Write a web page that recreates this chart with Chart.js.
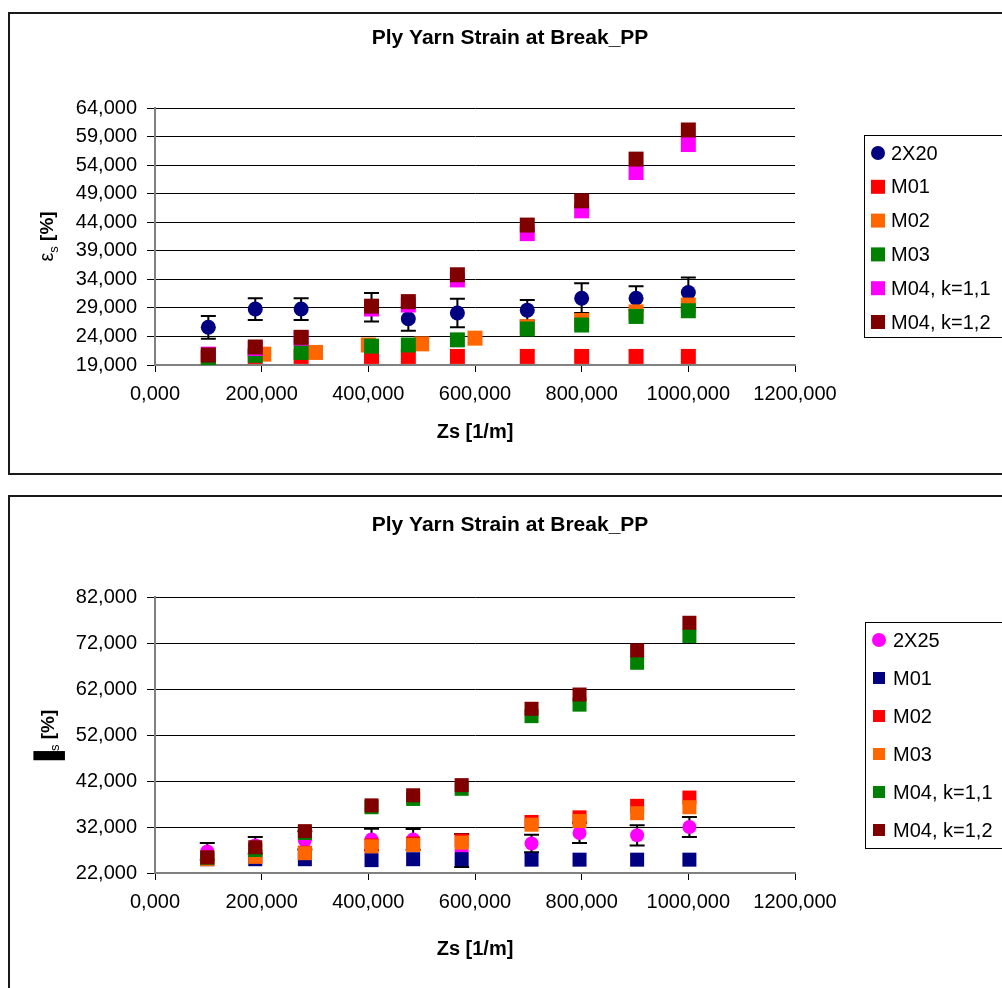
<!DOCTYPE html>
<html>
<head>
<meta charset="utf-8">
<script src="https://cdn.jsdelivr.net/npm/chart.js@4.4.1/dist/chart.umd.min.js"></script>
<style>
  html, body { margin: 0; padding: 0; background: #fff; overflow: hidden; width: 1002px; height: 988px; }
  .box { position: absolute; left: 8px; width: 1010px; border: 2px solid #1a1a1a; background: #fff; }
  #box1 { top: 12px; height: 459px; }
  #box2 { top: 495px; height: 500px; }
  canvas { display: block; }
</style>
</head>
<body>
<div class="box" id="box1"><canvas id="c1" width="1000" height="459"></canvas></div>
<div class="box" id="box2"><canvas id="c2" width="1000" height="493"></canvas></div>
<script>
// ---- shared text ----
const TITLE = 'Ply Yarn Strain at Break_PP';
const X_TITLE = 'Zs [1/m]';

// ---- upper chart: 2X20 plied yarn and its models ----
const zs2x20   = [100, 188, 274, 406, 475, 567, 698, 800, 902, 1000];
const eps2x20  = [25.6, 28.8, 28.8, 29.1, 27.1, 28.1, 28.6, 30.7, 30.7, 31.7];
const err2x20  = [2.0, 1.9, 1.9, 2.5, 2.1, 2.5, 1.8, 2.6, 2.1, 2.6];
const epsM01   = [20.5, 20.5, 20.5, 20.5, 20.5, 20.5, 20.5, 20.5, 20.5, 20.5];
const zsM02    = [100, 204, 301, 400, 500, 600, 698, 800, 902, 1000];
const epsM02   = [20.2, 20.9, 21.2, 22.5, 22.7, 23.7, 25.7, 26.8, 28.3, 29.5];
const epsM03   = [20.3, 20.7, 21.2, 22.3, 22.5, 23.4, 25.3, 26.0, 27.5, 28.5];
const epsM04a  = [20.9, 21.9, 23.7, 28.8, 29.5, 33.9, 42.0, 46.0, 52.7, 57.6];
const epsM04b  = [20.75, 22.15, 23.85, 29.3, 30.1, 34.8, 43.5, 47.75, 55.05, 60.15];
const labels1  = ['2X20', 'M01', 'M02', 'M03', 'M04, k=1,1', 'M04, k=1,2'];
const yTicks1  = { min: 19, max: 64, step: 5 };

// ---- lower chart: 2X25 plied yarn and its models ----
const zs2x25   = [98, 188, 281, 406, 484, 575, 706, 796, 904, 1002];
const eps2x25  = [26.7, 28.0, 29.1, 29.3, 29.3, 26.9, 28.4, 30.7, 30.2, 32.0];
const err2x25  = [1.8, 1.8, 2.0, 2.3, 2.25, 3.6, 1.9, 2.2, 2.2, 2.2];
const epsBM01  = [25.0, 25.0, 25.0, 24.8, 25.0, 25.0, 24.9, 24.9, 24.9, 24.9];
const epsBM02  = [25.3, 25.7, 26.4, 28.0, 28.4, 29.1, 33.1, 34.1, 36.6, 38.4];
const epsBM03  = [25.0, 25.5, 26.3, 27.8, 28.1, 28.6, 32.5, 33.3, 35.0, 36.3];
const epsBM04a = [25.3, 27.0, 30.7, 36.3, 38.1, 40.3, 56.1, 58.6, 67.7, 73.5];
const epsBM04b = [25.4, 27.6, 31.1, 36.7, 38.9, 41.1, 57.7, 60.8, 70.4, 76.4];
const labels2  = ['2X25', 'M01', 'M02', 'M03', 'M04, k=1,1', 'M04, k=1,2'];
const yTicks2  = { min: 22, max: 82, step: 10 };

const xTicks = { min: 0, max: 1200, step: 200 };

const FONT = '"Liberation Sans", Arial, sans-serif';
const fmt = v => Number(v).toFixed(3).replace('.', ',');
const pts = (xs, ys) => xs.map((x, i) => ({ x, y: ys[i] }));

// chart heading, centred over the whole frame
const heading = {
  id: 'heading',
  afterDraw(chart, args, o) {
    const ctx = chart.ctx;
    ctx.save();
    ctx.font = `bold ${o.size}px ${FONT}`;
    ctx.fillStyle = '#000';
    ctx.textAlign = 'center';
    ctx.textBaseline = 'middle';
    ctx.fillText(o.text, o.x, o.y);
    ctx.restore();
  }
};

// vertical error bars with caps, drawn just before the owning dataset
const errorBars = {
  id: 'errorBars',
  beforeDatasetDraw(chart, args, o) {
    const ds = chart.data.datasets[args.index];
    if (!ds.errors) return;
    const { ctx, scales: { y } } = chart;
    ctx.save();
    ctx.strokeStyle = '#000';
    ctx.lineWidth = o.lineWidth;
    args.meta.data.forEach((el, i) => {
      const v = ds.data[i].y, e = ds.errors[i];
      const y1 = y.getPixelForValue(v + e), y2 = y.getPixelForValue(v - e);
      ctx.beginPath();
      ctx.moveTo(el.x, y1); ctx.lineTo(el.x, y2);
      ctx.moveTo(el.x - o.cap / 2, y1); ctx.lineTo(el.x + o.cap / 2, y1);
      ctx.moveTo(el.x - o.cap / 2, y2); ctx.lineTo(el.x + o.cap / 2, y2);
      ctx.stroke();
    });
    ctx.restore();
  }
};

// rotated y-axis title with a subscript
const subTitle = {
  id: 'subTitle',
  afterDraw(chart, args, o) {
    const { ctx, chartArea } = chart;
    const cy = (chartArea.top + chartArea.bottom) / 2;
    const symFont = `${o.symBold ? 'bold ' : ''}${o.symSize}px ${FONT}`;
    const subFont = `${o.subSize}px ${FONT}`;
    const unitFont = `bold ${o.size}px ${FONT}`;
    ctx.save();
    ctx.font = symFont; const w1 = ctx.measureText(o.symbol).width * o.symScaleX;
    ctx.font = subFont; const w2 = ctx.measureText(o.sub).width;
    ctx.font = unitFont; const w3 = ctx.measureText(o.unit).width;
    ctx.translate(o.x, cy);
    ctx.rotate(-Math.PI / 2);
    ctx.fillStyle = '#000';
    ctx.textBaseline = 'alphabetic';
    ctx.textAlign = 'left';
    let x = -(w1 + w2 + w3) / 2;
    const base = o.size * 0.36;
    ctx.save();
    ctx.translate(x, base + o.symShift);
    ctx.scale(o.symScaleX, 1);
    ctx.font = symFont;
    ctx.fillText(o.symbol, 0, 0);
    ctx.restore();
    x += w1;
    ctx.font = subFont; ctx.fillText(o.sub, x, base + o.subShift); x += w2;
    ctx.font = unitFont; ctx.fillText(o.unit, x, base);
    ctx.restore();
  }
};

// framed legend on the right
const boxLegend = {
  id: 'boxLegend',
  afterDraw(chart, args, o) {
    const ctx = chart.ctx;
    ctx.save();
    ctx.strokeStyle = '#000';
    ctx.lineWidth = 1;
    ctx.strokeRect(o.left + 0.5, o.top + 0.5, o.width, o.height);
    ctx.font = `${o.fontSize}px ${FONT}`;
    ctx.textBaseline = 'middle';
    ctx.textAlign = 'left';
    chart.data.datasets.forEach((ds, i) => {
      const y = o.top + o.first + i * o.step;
      ctx.fillStyle = ds.backgroundColor;
      if (ds.pointStyle === 'circle') {
        ctx.beginPath(); ctx.arc(o.markerX, y, o.circle, 0, Math.PI * 2); ctx.fill();
      } else {
        ctx.fillRect(o.markerX - o.square / 2, y - o.square / 2, o.square, o.square);
      }
      ctx.fillStyle = '#000';
      ctx.fillText(ds.label, o.textX, y + 1);
    });
    ctx.restore();
  }
};

function series(label, color, style, data, radius, order, errors) {
  const d = {
    label, data, backgroundColor: color, borderColor: color,
    pointStyle: style, pointRadius: radius, pointBorderWidth: 0,
    showLine: false, order
  };
  if (errors) d.errors = errors;
  return d;
}

function build(id, cfg) {
  return new Chart(document.getElementById(id), {
    type: 'scatter',
    data: { datasets: cfg.datasets },
    options: {
      responsive: false,
      animation: false,
      devicePixelRatio: 1,
      events: [],
      layout: { padding: { top: cfg.areaTop, left: 0, right: 215, bottom: 0 } },
      scales: {
        x: {
          type: 'linear', min: xTicks.min, max: xTicks.max,
          afterFit: s => { s.height = cfg.xHeight; },
          ticks: { stepSize: xTicks.step, callback: fmt, color: '#000', padding: 10, font: { family: FONT, size: 20 }, maxRotation: 0 },
          grid: { drawOnChartArea: false, drawTicks: true, tickLength: 7, color: '#000' },
          border: { color: '#808080', width: 2 },
          title: { display: true, text: X_TITLE, color: '#000', font: { family: FONT, size: 20, weight: 'bold' }, padding: { top: 0, bottom: 29 } }
        },
        y: {
          type: 'linear', min: cfg.yTicks.min, max: cfg.yTicks.max,
          afterFit: s => { s.width = 145; },
          ticks: { stepSize: cfg.yTicks.step, callback: fmt, color: '#000', padding: 10, font: { family: FONT, size: 20 } },
          grid: { color: '#000', lineWidth: 1, tickLength: 8 },
          border: { color: '#808080', width: 2 }
        }
      },
      plugins: {
        legend: { display: false },
        tooltip: { enabled: false },
        title: { display: false },
        heading: { text: TITLE, x: 500, y: cfg.titleY, size: 21 },
        errorBars: { lineWidth: 2, cap: 15 },
        subTitle: cfg.yTitle,
        boxLegend: cfg.legend
      }
    },
    plugins: [heading, errorBars, subTitle, boxLegend]
  });
}

// upper chart
build('c1', {
  areaTop: 94,
  titleY: 24,
  xHeight: 108,
  yTicks: yTicks1,
  yTitle: { x: 36, symbol: 'ε', symSize: 20, symBold: false, symScaleX: 1, symShift: 0,
            sub: 's', subSize: 13, subShift: 5, unit: ' [%]', size: 19 },
  legend: { left: 854, top: 121, width: 200, height: 202, first: 18, step: 33.8,
            markerX: 868, textX: 881, square: 14, circle: 7, fontSize: 20 },
  datasets: [
    series(labels1[0], '#000080', 'circle', pts(zs2x20, eps2x20), 7.5, 6, err2x20),
    series(labels1[1], '#FF0000', 'rect', pts(zs2x20, epsM01), 10.6, 5),
    series(labels1[2], '#FF6600', 'rect', pts(zsM02, epsM02), 10.6, 4),
    series(labels1[3], '#008000', 'rect', pts(zs2x20, epsM03), 10.6, 3),
    series(labels1[4], '#FF00FF', 'rect', pts(zs2x20, epsM04a), 10.6, 2),
    series(labels1[5], '#800000', 'rect', pts(zs2x20, epsM04b), 10.6, 1)
  ]
});

// lower chart
build('c2', {
  areaTop: 100,
  titleY: 28,
  xHeight: 117,
  yTicks: yTicks2,
  yTitle: { x: 37, symbol: '█', symSize: 26, symBold: false, symScaleX: 0.5, symShift: 3,
            sub: 's', subSize: 13, subShift: 5, unit: ' [%]', size: 19 },
  legend: { left: 855, top: 125, width: 200, height: 226, first: 18, step: 38,
            markerX: 869, textX: 883, square: 12, circle: 7, fontSize: 20 },
  datasets: [
    series(labels2[0], '#FF00FF', 'circle', pts(zs2x25, eps2x25), 7, 6, err2x25),
    series(labels2[1], '#000080', 'rect', pts(zs2x25, epsBM01), 9.9, 5),
    series(labels2[2], '#FF0000', 'rect', pts(zs2x25, epsBM02), 9.9, 4),
    series(labels2[3], '#FF6600', 'rect', pts(zs2x25, epsBM03), 9.9, 3),
    series(labels2[4], '#008000', 'rect', pts(zs2x25, epsBM04a), 9.9, 2),
    series(labels2[5], '#800000', 'rect', pts(zs2x25, epsBM04b), 9.9, 1)
  ]
});
</script>
</body>
</html>
